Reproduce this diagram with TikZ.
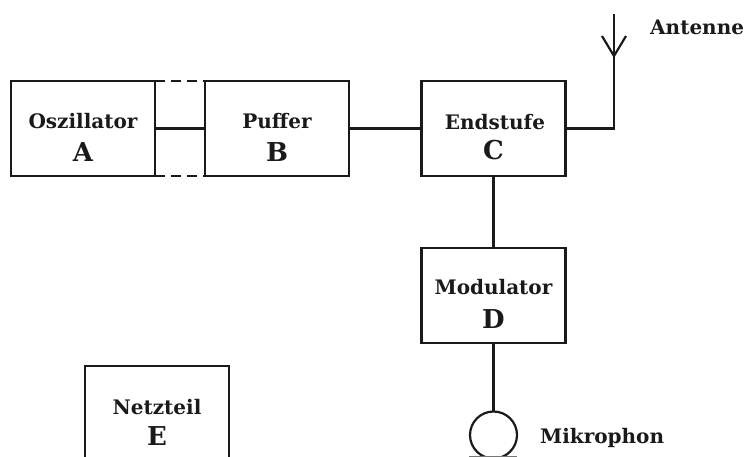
\documentclass[tikz,border=0pt]{standalone}
\usepackage{fontspec}
\setmainfont{DejaVu Serif}
\newcommand\lbl[5][0]{\makebox[0pt]{\raisebox{#2pt}[0pt][0pt]{\hspace*{#1pt}\fontsize{20}{24}\bfseries\selectfont #3}}\makebox[0pt]{\raisebox{#4pt}[0pt][0pt]{\fontsize{26}{30}\bfseries\selectfont #5}}}
\tikzset{
  blockbox/.style={draw=ink,line width=2.2pt,minimum width=144pt,minimum height=95pt,inner sep=0pt,outer sep=0pt,text=ink},
  wire/.style={draw=ink,line width=2.2pt},
  dashwire/.style={draw=ink,line width=2.2pt,dash pattern=on 10pt off 6pt},
  caption/.style={text=ink,font=\fontsize{20}{24}\bfseries\selectfont,inner sep=0pt,anchor=base west}
}
\definecolor{ink}{HTML}{1A1A1A}
\begin{document}
\begin{tikzpicture}[x=1pt,y=-1pt]
\useasboundingbox (0,0) rectangle (749,457);
\clip (0,0) rectangle (749,457);
\node[blockbox] (A) at (83,128.5) {\lbl{0}{Oszillator}{-33}{A}};
\node[blockbox] (B) at (277,128.5) {\lbl{0}{Puffer}{-33}{B}};
\node[blockbox] (C) at (493.5,128.5) {\lbl[3]{-1}{Endstufe}{-31}{C}};
\node[blockbox] (D) at (493.5,295.5) {\lbl{1}{Modulator}{-33}{D}};
\node[blockbox,minimum height=110pt] (E) at (157,421) {\lbl{7}{Netzteil}{-24}{E}};
\node[draw=ink,line width=2.2pt,circle,minimum size=47pt,inner sep=0pt,outer sep=0pt] (M) at (493.5,435) {};
\coordinate (mast) at (614,56);
\coordinate (top) at (614,14);
\coordinate (elbow) at (614,128.5);
\coordinate (vl) at (602,36);
\coordinate (vr) at (626,36);
\coordinate (ml) at (469,456.5);
\coordinate (mr) at (517,456.5);
\path[dashwire] (A.north east) -- (B.north west);
\path[dashwire] (A.south east) -- (B.south west);
\path[wire] (A.east) -- (B.west);
\path[wire] (B.east) -- (C.west);
\path[wire] (C.east) -- (elbow) -- (mast);
\path[wire] (top) -- (mast);
\path[wire] (vl) -- (mast) -- (vr);
\path[wire] (C.south) -- (D.north);
\path[wire] (D.south) -- (M.north);
\path[draw=ink!60,line width=1pt] (ml) -- (mr);
\node[caption] (ant) at (650,35) {Antenne};
\node[caption] (mik) at (540,443) {Mikrophon};
\end{tikzpicture}
\end{document}
